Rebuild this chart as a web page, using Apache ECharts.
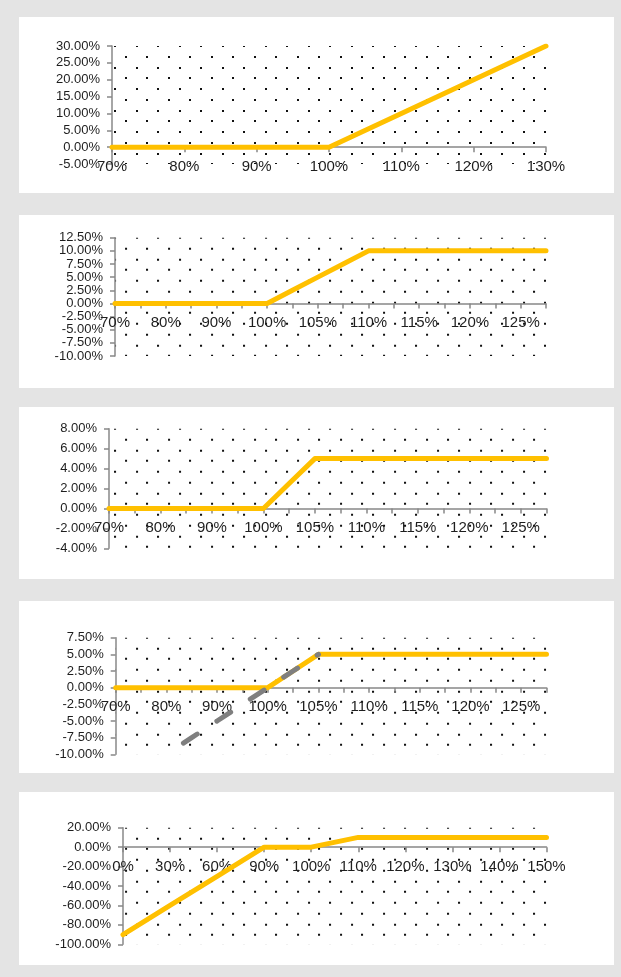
<!DOCTYPE html>
<html>
<head>
<meta charset="utf-8">
<script src="https://cdn.jsdelivr.net/npm/echarts@6/dist/echarts.min.js"></script>
<style>
  html, body { margin: 0; padding: 0; background: #e4e4e4; }
  body { width: 621px; height: 977px; position: relative; overflow: hidden; }
  .panel { position: absolute; left: 19px; width: 595px; background: #ffffff; }
</style>
</head>
<body>
<div class="panel" id="p1" style="top:17px;height:176px"></div>
<div class="panel" id="p2" style="top:215px;height:173px"></div>
<div class="panel" id="p3" style="top:407px;height:172px"></div>
<div class="panel" id="p4" style="top:601px;height:172px"></div>
<div class="panel" id="p5" style="top:792px;height:173px"></div>
<script>
// ---- data (values in percent) ----
const cats1 = ['70%', '80%', '90%', '100%', '110%', '120%', '130%'];
const vals1 = [0, 0, 0, 0, 10, 20, 30];
const yRange1 = [-5, 30, 5];            // min, max, step

const catsFine = ['70%', '75%', '80%', '85%', '90%', '95%', '100%', '102.5%', '105%',
                  '107.5%', '110%', '112.5%', '115%', '117.5%', '120%', '122.5%', '125%', '127.5%'];

const vals2 = [0, 0, 0, 0, 0, 0, 0, 2.5, 5, 7.5, 10, 10, 10, 10, 10, 10, 10, 10];
const yRange2 = [-10, 12.5, 2.5];

const vals3 = [0, 0, 0, 0, 0, 0, 0, 2.5, 5, 5, 5, 5, 5, 5, 5, 5, 5, 5];
const yRange3 = [-4, 8, 2];

const vals4 = [0, 0, 0, 0, 0, 0, 0, 2.5, 5, 5, 5, 5, 5, 5, 5, 5, 5, 5];
const vals4Dash = [null, null, -10, -7.5, -5, -2.5, 0, 2.5, 5, null, null, null, null, null, null, null, null, null];
const yRange4 = [-10, 7.5, 2.5];

const cats5 = ['0%', '30%', '60%', '90%', '100%', '110%', '120%', '130%', '140%', '150%'];
const vals5 = [-90, -60, -30, 0, 0, 10, 10, 10, 10, 10];
const yRange5 = [-100, 20, 20];

// ---- styling ----
const FONT = 'Liberation Sans, Arial, sans-serif';
const AXIS_COLOR = '#888888';
const TEXT_COLOR = '#1e1e1e';
const GOLD = '#FFC000';
const GREY = '#7f7f7f';

// staggered dot texture for the plot area
function dotTile() {
  const c = document.createElement('canvas');
  c.width = 43; c.height = 43;
  const g = c.getContext('2d');
  g.fillStyle = '#111111';
  const rows = [0, 11, 22, 32];
  rows.forEach((y, j) => {
    const xs = j % 2 === 0 ? [0, 22] : [11, 32];
    xs.forEach(x => g.fillRect(x, y, 2, 2));
  });
  return c;
}
const tile = dotTile();

function buildOption(cfg) {
  const g = cfg.grid;
  const [yMin, yMax, yStep] = cfg.yRange;
  // the category axis crosses the value axis at zero
  const zeroLift = g[3] * (0 - yMin) / (yMax - yMin);
  return {
    animation: false,
    backgroundColor: 'transparent',
    grid: {
      left: g[0], top: g[1], width: g[2], height: g[3],
      show: true, borderWidth: 0,
      backgroundColor: {
        image: tile, repeat: 'repeat',
        x: 95, y: g[1] - 1 - (cfg.shiftRow ? 11 : 0)
      }
    },
    xAxis: {
      type: 'category',
      data: cfg.cats,
      boundaryGap: false,
      position: 'bottom',
      offset: -zeroLift,
      axisLine: { show: true, onZero: false, lineStyle: { color: AXIS_COLOR, width: 1.5 } },
      axisTick: { show: true, interval: 0, length: 5, lineStyle: { color: AXIS_COLOR, width: 1.5 } },
      axisLabel: {
        interval: cfg.labelEvery - 1, fontSize: 15, margin: 12,
        color: TEXT_COLOR, fontFamily: FONT
      },
      splitLine: { show: false }
    },
    yAxis: {
      type: 'value',
      min: yMin, max: yMax, interval: yStep,
      axisLine: { show: true, lineStyle: { color: AXIS_COLOR, width: 1.5 } },
      axisTick: { show: true, length: 5, lineStyle: { color: AXIS_COLOR, width: 1.5 } },
      axisLabel: {
        fontSize: 13, margin: 12, color: TEXT_COLOR, fontFamily: FONT,
        formatter: v => v.toFixed(2) + '%'
      },
      splitLine: { show: false }
    },
    series: cfg.series
  };
}

function goldLine(data) {
  return {
    type: 'line', data: data, symbol: 'none', silent: true,
    lineStyle: { color: GOLD, width: 5, cap: 'round', join: 'round' },
    itemStyle: { color: GOLD }
  };
}

function greyDash(data) {
  return {
    type: 'line', data: data, symbol: 'none', silent: true,
    lineStyle: { color: GREY, width: 5, type: [16.5, 23.5], dashOffset: 19.6, cap: 'round', join: 'round' },
    itemStyle: { color: GREY }
  };
}

const panels = [
  { id: 'p1', grid: [93, 29, 434, 118], cats: cats1, labelEvery: 1, yRange: yRange1,
    series: [goldLine(vals1)] },
  { id: 'p2', grid: [96, 22.7, 431, 118.3], cats: catsFine, labelEvery: 2, yRange: yRange2,
    series: [goldLine(vals2)] },
  { id: 'p3', grid: [90, 21.7, 437.5, 119.6], cats: catsFine, labelEvery: 2, yRange: yRange3,
    series: [goldLine(vals3)] },
  { id: 'p4', grid: [96.7, 36.7, 430.8, 116.6], cats: catsFine, labelEvery: 2, yRange: yRange4,
    shiftRow: true, series: [goldLine(vals4), greyDash(vals4Dash)] },
  { id: 'p5', grid: [104, 35.7, 423.5, 116.6], cats: cats5, labelEvery: 1, yRange: yRange5,
    shiftRow: true, series: [goldLine(vals5)] }
];

panels.forEach(p => {
  const chart = echarts.init(document.getElementById(p.id), null, { renderer: 'canvas' });
  chart.setOption(buildOption(p));
});
</script>
</body>
</html>
